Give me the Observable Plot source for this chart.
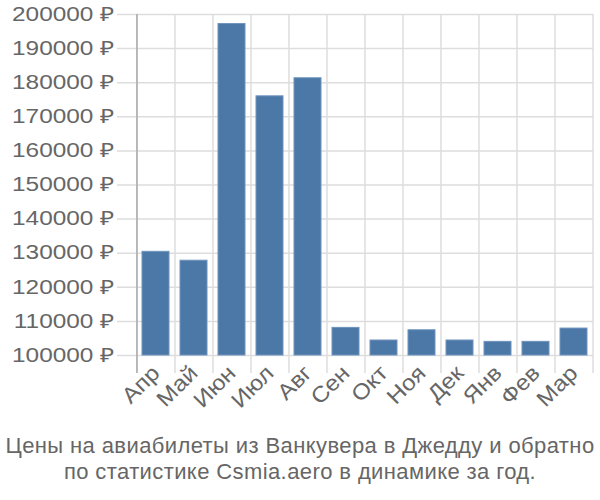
<!DOCTYPE html>
<html>
<head>
<meta charset="utf-8">
<script src="https://cdn.jsdelivr.net/npm/d3@7"></script>
<script src="https://cdn.jsdelivr.net/npm/@observablehq/plot@0.6"></script>
<style>
  html, body { margin: 0; padding: 0; background: #fff; }
  body { width: 600px; font-family: "Liberation Sans", Arial, sans-serif; }
  #caption { text-align: center; color: #666; font-size: 22px; line-height: 26px; margin-top: 15px; letter-spacing: 0.4px; white-space: nowrap; }
</style>
</head>
<body>
<div id="chart"></div>
<div id="caption">Цены на авиабилеты из Ванкувера в Джедду и обратно<br>по статистике Csmia.aero в динамике за год.</div>
<script>
const months = ["Апр", "Май", "Июн", "Июл", "Авг", "Сен", "Окт", "Ноя", "Дек", "Янв", "Фев", "Мар"];
const prices = [130400, 127800, 197200, 176000, 181300, 108100, 104400, 107400, 104400, 104000, 104000, 107900];
const yTicks = [100000, 110000, 120000, 130000, 140000, 150000, 160000, 170000, 180000, 190000, 200000];

const data = months.map((m, i) => ({month: m, price: prices[i]}));
const half = 19.04;

const chart = Plot.plot({
  width: 600,
  height: 418,
  marginTop: 14,
  marginLeft: 136,
  marginRight: 7,
  marginBottom: 63,
  style: {fontFamily: "Liberation Sans, Arial, sans-serif", color: "#666", background: "#fff"},
  x: {domain: months, paddingInner: 0.28, paddingOuter: 0.14, label: null},
  y: {domain: [100000, 200000], label: null},
  marks: [
    Plot.ruleY(yTicks, {stroke: "#ddd", strokeWidth: 1.5, strokeOpacity: 1, insetLeft: -19}),
    Plot.ruleX(months, {x: d => d, dx: -half, y1: 200000, y2: 100000, insetBottom: -18, stroke: "#ddd", strokeWidth: 1.5, strokeOpacity: 1}),
    Plot.ruleX([months[months.length - 1]], {x: d => d, dx: half, y1: 200000, y2: 100000, insetBottom: -18, stroke: "#ddd", strokeWidth: 1.5, strokeOpacity: 1}),
    Plot.ruleX([months[0]], {x: d => d, dx: -half, y1: 200000, y2: 100000, insetBottom: -18, stroke: "#aaa", strokeWidth: 1.5, strokeOpacity: 1}),
    Plot.barY(data, {x: "month", y1: 100000, y2: "price", fill: "#4c78a8", stroke: "#6f93bd", strokeWidth: 1}),
    Plot.axisY(yTicks, {tickSize: 0, tickPadding: 22, fontSize: 19.5, fill: "#666", tickFormat: d => d + " ₽", label: null}),
    Plot.axisX({tickRotate: -45, tickSize: 0, tickPadding: 14, fontSize: 22, fill: "#666", label: null})
  ]
});
document.getElementById("chart").appendChild(chart);
// widen glyphs along the text direction (about each label's end anchor), as in the reference
const widen = (sel, k) => d3.select(chart).selectAll(sel).each(function() {
  const b = this.getBBox();
  const ax = b.x + b.width;
  const t = this.getAttribute("transform") || "";
  this.setAttribute("transform", `${t} translate(${ax},0) scale(${k},1) translate(${-ax},0)`);
});
widen("g[aria-label='y-axis tick label'] text", 1.25);
widen("g[aria-label='x-axis tick label'] text", 1.1);
</script>
</body>
</html>
